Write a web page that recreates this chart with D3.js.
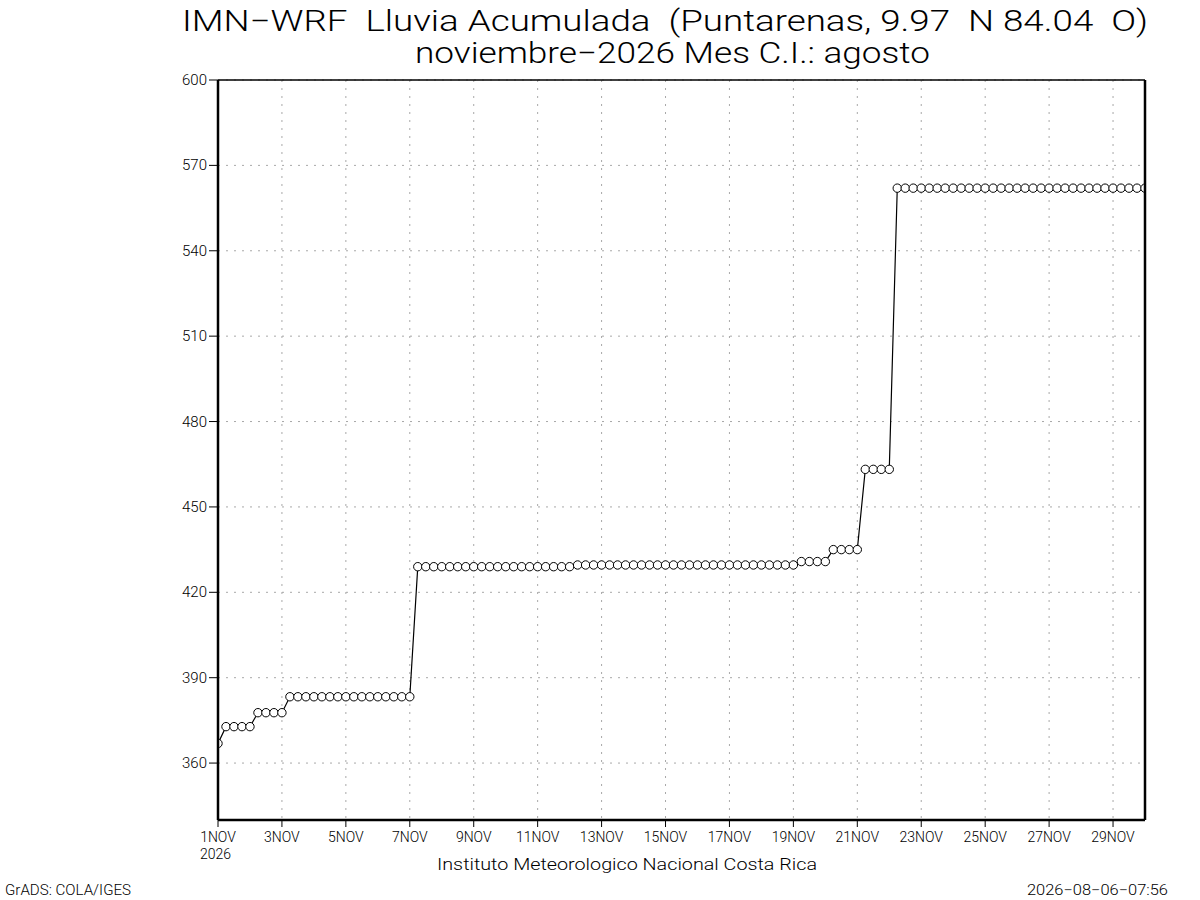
<!DOCTYPE html>
<html>
<head>
<meta charset="utf-8">
<script src="https://cdn.jsdelivr.net/npm/d3@7"></script>
<style>
  body { margin: 0; background: #fff; }
  svg { display: block; font-family: Roboto, "Liberation Sans", Arial, sans-serif; font-weight: 300; }
  text { white-space: pre; }
</style>
</head>
<body>
<svg width="1200" height="900"></svg>
<script>
// 6-hourly accumulated rain, 1 Nov 00Z .. 30 Nov 00Z
let startTime = new Date(Date.UTC(2026, 10, 1, 0));
let endTime = new Date(Date.UTC(2026, 10, 30, 0));
let stepHours = 6;

let rain = [
  366.9,
  372.8, 372.8, 372.8, 372.8,
  377.7, 377.7, 377.7, 377.7,
  383.3, 383.3, 383.3, 383.3, 383.3, 383.3, 383.3, 383.3,
  383.3, 383.3, 383.3, 383.3, 383.3, 383.3, 383.3, 383.3,
  429.0, 429.0, 429.0, 429.0, 429.0, 429.0, 429.0, 429.0, 429.0, 429.0,
  429.0, 429.0, 429.0, 429.0, 429.0, 429.0, 429.0, 429.0, 429.0, 429.0,
  429.6, 429.6, 429.6, 429.6, 429.6, 429.6, 429.6, 429.6, 429.6, 429.6,
  429.6, 429.6, 429.6, 429.6, 429.6, 429.6, 429.6, 429.6, 429.6, 429.6,
  429.6, 429.6, 429.6, 429.6, 429.6, 429.6, 429.6, 429.6,
  430.8, 430.8, 430.8, 430.8,
  435.0, 435.0, 435.0, 435.0,
  463.2, 463.2, 463.2, 463.2,
  562.0, 562.0, 562.0, 562.0, 562.0, 562.0, 562.0, 562.0,
  562.0, 562.0, 562.0, 562.0, 562.0, 562.0, 562.0, 562.0,
  562.0, 562.0, 562.0, 562.0, 562.0, 562.0, 562.0, 562.0,
  562.0, 562.0, 562.0, 562.0, 562.0, 562.0, 562.0, 562.0
];

let yTicks = [360, 390, 420, 450, 480, 510, 540, 570, 600];
let xTickDays = [1, 3, 5, 7, 9, 11, 13, 15, 17, 19, 21, 23, 25, 27, 29];

let titleLine1 = 'IMN\u2212WRF  Lluvia Acumulada  (Puntarenas, 9.97  N 84.04  O)';
let titleLine2 = 'noviembre\u22122026 Mes C.I.: agosto';
let footer = 'Instituto Meteorologico Nacional Costa Rica';
let credit = 'GrADS: COLA/IGES';
let stamp = '2026\u221208\u221206\u221207:56';

let svg = d3.select('svg');
let pLeft = 218, pRight = 1145, pTop = 80, pBottom = 820;

let x = d3.scaleUtc().domain([startTime, endTime]).range([pLeft, pRight]);
let y = d3.scaleLinear().domain([340, 600]).range([pBottom, pTop]);
let dayX = (d) => x(new Date(Date.UTC(2026, 10, d)));

let points = rain.map((v, i) => ({
  t: new Date(startTime.getTime() + i * stepHours * 3600 * 1000),
  v: v
}));

// grid
let grid = svg.append('g')
    .attr('stroke', '#a8a8a8')
    .attr('stroke-width', 1)
    .attr('stroke-dasharray', '2,6');

grid.selectAll('line.h')
    .data(yTicks)
  .enter().append('line')
    .attr('class', 'h')
    .attr('x1', pLeft).attr('x2', pRight)
    .attr('y1', (d) => y(d)).attr('y2', (d) => y(d));

grid.selectAll('line.v')
    .data(xTickDays.slice(1))
  .enter().append('line')
    .attr('class', 'v')
    .attr('x1', dayX).attr('x2', dayX)
    .attr('y1', pTop).attr('y2', pBottom);

// clip for marks
svg.append('clipPath').attr('id', 'plot')
  .append('rect')
    .attr('x', pLeft).attr('y', pTop)
    .attr('width', pRight - pLeft).attr('height', pBottom - pTop);

let marks = svg.append('g').attr('clip-path', 'url(#plot)');

marks.append('path')
    .datum(points)
    .attr('fill', 'none')
    .attr('stroke', '#000')
    .attr('stroke-width', 1.2)
    .attr('d', d3.line().x((d) => x(d.t)).y((d) => y(d.v)));

marks.selectAll('circle')
    .data(points)
  .enter().append('circle')
    .attr('cx', (d) => x(d.t))
    .attr('cy', (d) => y(d.v))
    .attr('r', 4.2)
    .attr('fill', '#fff')
    .attr('stroke', '#000')
    .attr('stroke-width', 1);

// frame
let frame = svg.append('g').attr('stroke', '#000');
frame.append('line').attr('x1', pLeft).attr('x2', pRight).attr('y1', pTop).attr('y2', pTop)
    .attr('stroke-width', 1.3);
frame.append('line').attr('x1', pLeft).attr('x2', pRight).attr('y1', pBottom).attr('y2', pBottom)
    .attr('stroke-width', 2.5);
frame.append('line').attr('x1', pLeft).attr('x2', pLeft).attr('y1', pTop).attr('y2', pBottom)
    .attr('stroke-width', 2.5);
frame.append('line').attr('x1', pRight).attr('x2', pRight).attr('y1', pTop).attr('y2', pBottom)
    .attr('stroke-width', 2.5);

// y axis
let yAxis = svg.append('g');
yAxis.selectAll('line')
    .data(yTicks)
  .enter().append('line')
    .attr('x1', pLeft - 9).attr('x2', pLeft)
    .attr('y1', (d) => y(d)).attr('y2', (d) => y(d))
    .attr('stroke', '#000').attr('stroke-width', 1);
yAxis.selectAll('text')
    .data(yTicks)
  .enter().append('text')
    .attr('x', pLeft - 11)
    .attr('y', (d) => y(d) + 5)
    .attr('text-anchor', 'end')
    .attr('font-size', 15)
    .text((d) => d);

// x axis
let xAxis = svg.append('g');
xAxis.selectAll('line')
    .data(xTickDays)
  .enter().append('line')
    .attr('x1', dayX).attr('x2', dayX)
    .attr('y1', pBottom).attr('y2', pBottom + 7)
    .attr('stroke', '#000').attr('stroke-width', 1);
xAxis.selectAll('text')
    .data(xTickDays)
  .enter().append('text')
    .attr('x', dayX)
    .attr('y', 842)
    .attr('text-anchor', 'middle')
    .attr('font-size', 14)
    .text((d) => d + 'NOV');
svg.append('text')
    .attr('x', pLeft - 18).attr('y', 859)
    .attr('font-size', 14)
    .text('2026');

// titles and footers
svg.append('text')
    .attr('x', 182).attr('y', 31)
    .attr('font-size', 29)
    .attr('textLength', 966).attr('lengthAdjust', 'spacingAndGlyphs')
    .text(titleLine1);
svg.append('text')
    .attr('x', 415).attr('y', 63)
    .attr('font-size', 29)
    .attr('textLength', 515).attr('lengthAdjust', 'spacingAndGlyphs')
    .text(titleLine2);
svg.append('text')
    .attr('x', 437).attr('y', 870)
    .attr('font-size', 17)
    .attr('textLength', 380).attr('lengthAdjust', 'spacingAndGlyphs')
    .text(footer);
svg.append('text')
    .attr('x', 5).attr('y', 895)
    .attr('font-size', 14)
    .attr('textLength', 126).attr('lengthAdjust', 'spacingAndGlyphs')
    .text(credit);
svg.append('text')
    .attr('x', 1027).attr('y', 895)
    .attr('font-size', 14)
    .attr('textLength', 141).attr('lengthAdjust', 'spacingAndGlyphs')
    .text(stamp);
</script>
</body>
</html>
